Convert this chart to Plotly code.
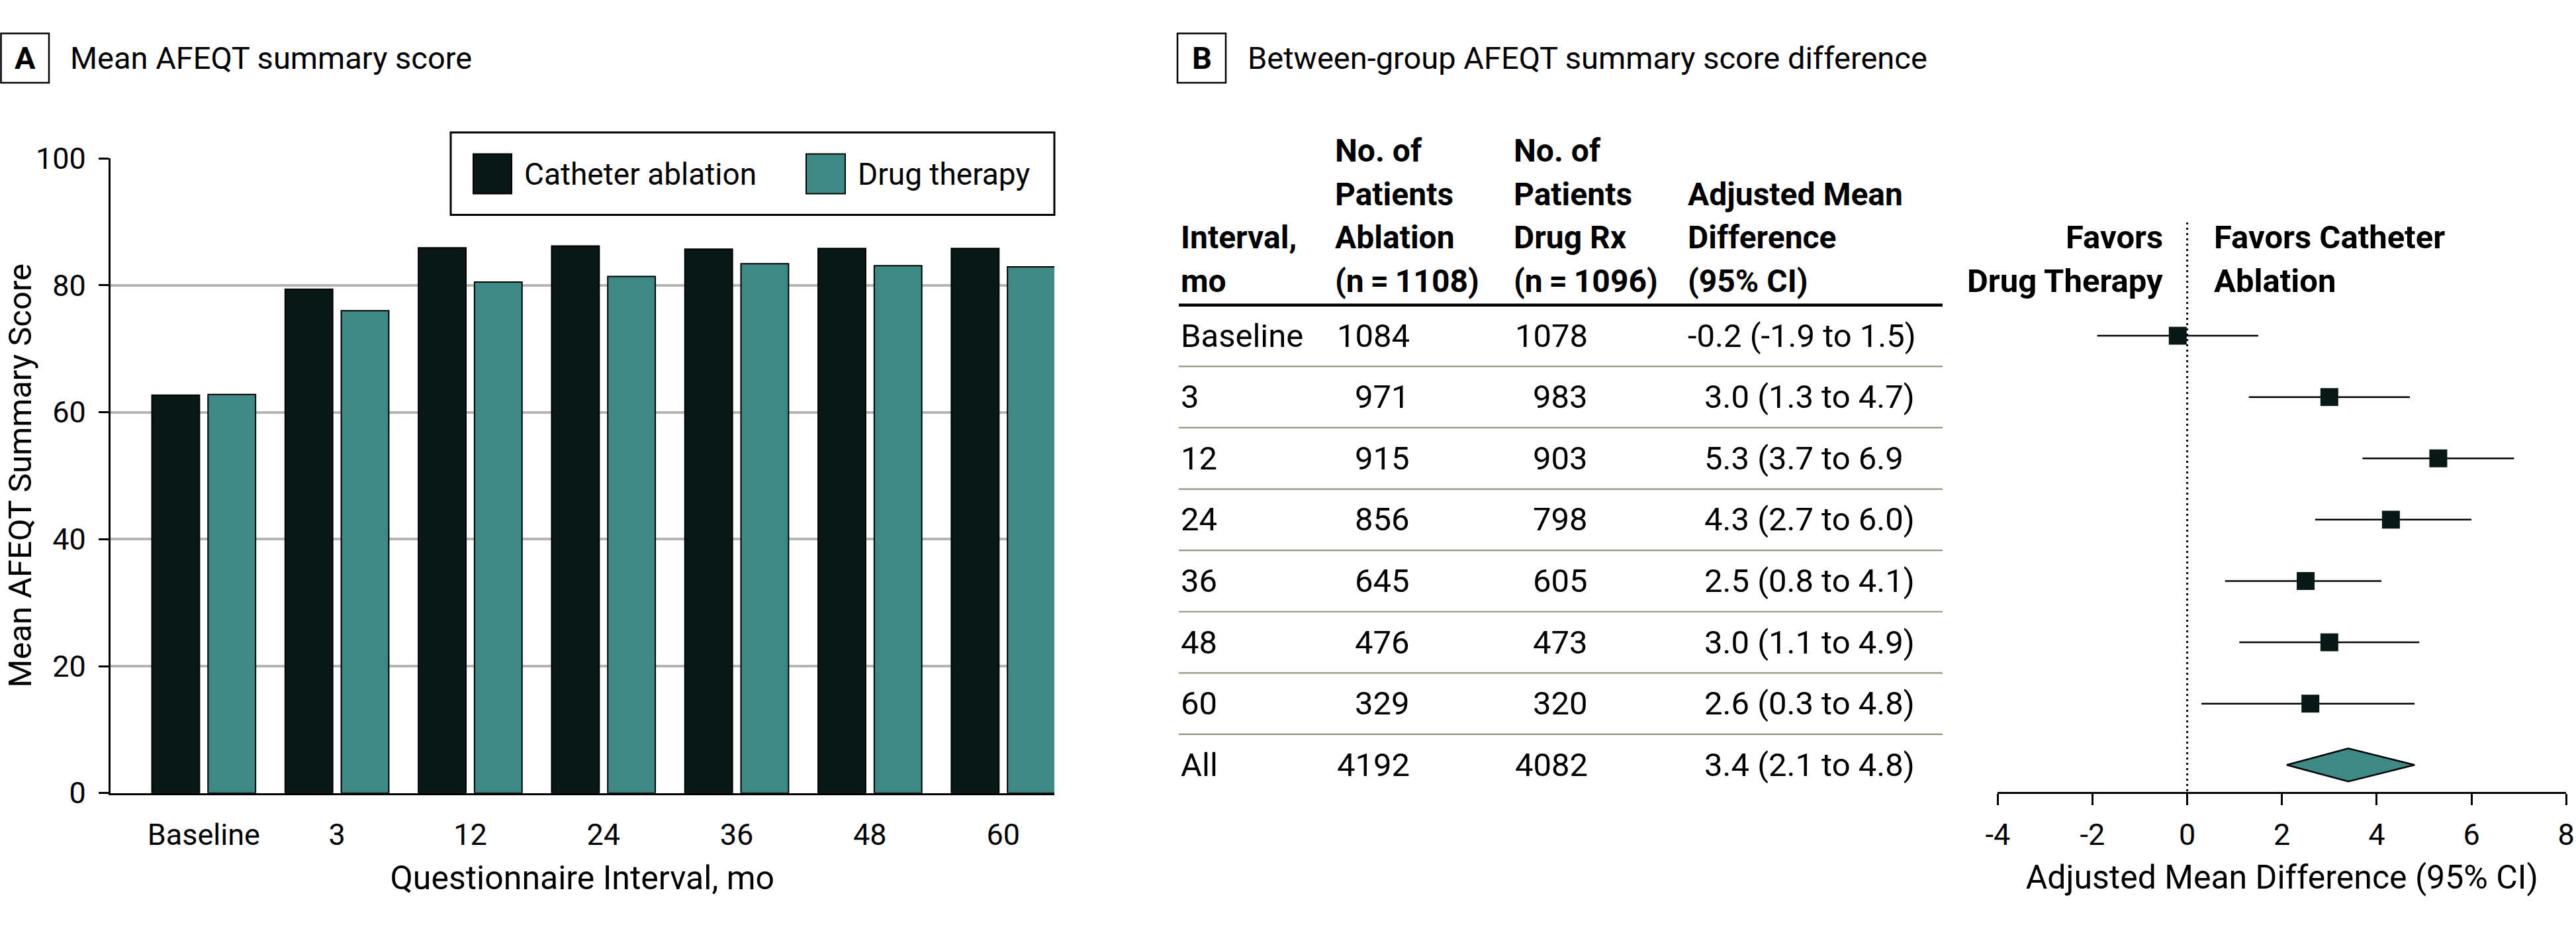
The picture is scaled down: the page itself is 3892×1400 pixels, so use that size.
import plotly.graph_objects as go

# ---------------- data ----------------
intervals = ["Baseline", "3", "12", "24", "36", "48", "60"]
catheter_ablation = [62.7, 79.4, 85.9, 86.2, 85.7, 85.8, 85.8]
drug_therapy = [62.8, 76.0, 80.5, 81.4, 83.4, 83.1, 82.9]

row_labels = ["Baseline", "3", "12", "24", "36", "48", "60", "All"]
n_ablation = [1084, 971, 915, 856, 645, 476, 329, 4192]
n_drug = [1078, 983, 903, 798, 605, 473, 320, 4082]
diff_est = [-0.2, 3.0, 5.3, 4.3, 2.5, 3.0, 2.6, 3.4]
diff_lo = [-1.9, 1.3, 3.7, 2.7, 0.8, 1.1, 0.3, 2.1]
diff_hi = [1.5, 4.7, 6.9, 6.0, 4.1, 4.9, 4.8, 4.8]
ci_labels = ["-0.2 (-1.9 to 1.5)", "3.0 (1.3 to 4.7)", "5.3 (3.7 to 6.9",
             "4.3 (2.7 to 6.0)", "2.5 (0.8 to 4.1)", "3.0 (1.1 to 4.9)",
             "2.6 (0.3 to 4.8)", "3.4 (2.1 to 4.8)"]
forest_ticks = [-4, -2, 0, 2, 4, 6, 8]
bar_ticks = [0, 20, 40, 60, 80, 100]

# ---------------- style ----------------
W, H = 3892, 1400
FONT = "Roboto"
DARK = "#081816"
TEAL = "#3c8985"
RULE = "#8d9679"


def px(x):
    return x / W


def py(y):
    return 1 - y / H


fig = go.Figure()

# Panel A bars
fig.add_trace(go.Bar(x=intervals, y=catheter_ablation, name="Catheter ablation",
                     offset=-0.389, width=0.357,
                     marker=dict(color=DARK, line=dict(color="black", width=2)),
                     xaxis="x", yaxis="y", showlegend=False))
fig.add_trace(go.Bar(x=intervals, y=drug_therapy, name="Drug therapy",
                     offset=0.032, width=0.357,
                     marker=dict(color=TEAL, line=dict(color="black", width=2)),
                     xaxis="x", yaxis="y", showlegend=False))

# Panel B forest plot (individual intervals)
n_int = len(row_labels) - 1
rows = list(range(n_int))
fig.add_trace(go.Scatter(
    x=diff_est[:n_int], y=rows, mode="markers",
    marker=dict(symbol="square", size=27, color=DARK, line=dict(width=0)),
    error_x=dict(type="data", symmetric=False,
                 array=[h - e for h, e in zip(diff_hi[:n_int], diff_est[:n_int])],
                 arrayminus=[e - l for e, l in zip(diff_est[:n_int], diff_lo[:n_int])],
                 width=0, thickness=2.5, color="black"),
    xaxis="x2", yaxis="y2", showlegend=False, cliponaxis=False))

# Overall diamond
r = n_int
half = 0.27
fig.add_trace(go.Scatter(
    x=[diff_lo[r], diff_est[r], diff_hi[r], diff_est[r], diff_lo[r]],
    y=[r, r - half, r, r + half, r],
    mode="lines", fill="toself", fillcolor=TEAL,
    line=dict(color="black", width=2.5),
    xaxis="x2", yaxis="y2", showlegend=False))

shapes = []
ann = []

# panel letter boxes and titles
for (bx0, bx1, letter, tx, title) in [
        (1.5, 74, "A", 103.6, "Mean AFEQT summary score"),
        (1779, 1852, "B", 1883, "Between-group AFEQT summary score difference")]:
    shapes.append(dict(type="rect", xref="paper", yref="paper",
                       x0=px(bx0), x1=px(bx1), y0=py(125), y1=py(50.5),
                       line=dict(color="black", width=2.5)))
    ann.append(dict(text="<b>%s</b>" % letter, x=px((bx0 + bx1) / 2), y=py(88),
                    xref="paper", yref="paper", xanchor="center", yanchor="middle",
                    showarrow=False, font=dict(size=47, color="black", family=FONT)))
    ann.append(dict(text=title, x=px(tx), y=py(88), xref="paper", yref="paper",
                    xanchor="left", yanchor="middle", showarrow=False,
                    font=dict(size=47, color="black", family=FONT)))

# custom legend for panel A
shapes.append(dict(type="rect", xref="paper", yref="paper", layer="above",
                   x0=px(681), x1=px(1593), y0=py(324.5), y1=py(200),
                   fillcolor="white", line=dict(color="black", width=3)))
for (sx0, sx1, col, tx, name) in [(715, 773, DARK, 790, "Catheter ablation"),
                                  (1218, 1277, TEAL, 1294, "Drug therapy")]:
    shapes.append(dict(type="rect", xref="paper", yref="paper", layer="above",
                       x0=px(sx0), x1=px(sx1), y0=py(292.4), y1=py(232.6),
                       fillcolor=col, line=dict(color="black", width=2)))
    ann.append(dict(text=name, x=px(tx), y=py(262.5), xref="paper", yref="paper",
                    xanchor="left", yanchor="middle", showarrow=False,
                    font=dict(size=46, color="black", family=FONT)))

# y-axis title panel A
ann.append(dict(text="Mean AFEQT Summary Score", x=px(30), y=py(718.5),
                xref="paper", yref="paper", textangle=-90, xanchor="center",
                yanchor="middle", showarrow=False,
                font=dict(size=49, color="black", family=FONT)))

# table headers
HEAD = 48
line_y = [424, 358.5, 293, 227.5]  # bottom line first
headers = [
    (1781.5, ["Interval,", "mo"]),
    (2015, ["No. of", "Patients", "Ablation", "(n\u2009=\u20091108)"]),
    (2285, ["No. of", "Patients", "Drug Rx", "(n\u2009=\u20091096)"]),
    (2548, ["Adjusted Mean", "Difference", "(95% CI)"]),
]
for hx, lines in headers:
    for k, t in enumerate(reversed(lines)):
        ann.append(dict(text="<b>%s</b>" % t, x=px(hx), y=py(line_y[k]),
                        xref="paper", yref="paper", xanchor="left", yanchor="middle",
                        showarrow=False, font=dict(size=HEAD, color="black", family=FONT)))

# favors labels
for t, x, anchor, yy in [("Favors", 3270, "right", 358.5),
                         ("Drug Therapy", 3270, "right", 424),
                         ("Favors Catheter", 3343, "left", 358.5),
                         ("Ablation", 3343, "left", 424)]:
    ann.append(dict(text="<b>%s</b>" % t, x=px(x), y=py(yy), xref="paper", yref="paper",
                    xanchor=anchor, yanchor="middle", showarrow=False,
                    font=dict(size=49, color="black", family=FONT)))

# table rows (positioned on the forest y scale)
TF = dict(size=49, color="black", family=FONT)
for i, lab in enumerate(row_labels):
    ann.append(dict(text=lab, x=px(1781.5), y=i, xref="paper", yref="y2",
                    xanchor="left", yanchor="middle", showarrow=False, font=TF))
    ann.append(dict(text=str(n_ablation[i]), x=px(2132), y=i, xref="paper", yref="y2",
                    xanchor="right", yanchor="middle", showarrow=False, font=TF))
    ann.append(dict(text=str(n_drug[i]), x=px(2401), y=i, xref="paper", yref="y2",
                    xanchor="right", yanchor="middle", showarrow=False, font=TF))
    cx = 2548 if diff_est[i] < 0 else 2573
    ann.append(dict(text=ci_labels[i], x=px(cx), y=i, xref="paper", yref="y2",
                    xanchor="left", yanchor="middle", showarrow=False, font=TF))

# table rules
shapes.append(dict(type="line", xref="paper", yref="y2", x0=px(1781), x1=px(2935),
                   y0=-0.5, y1=-0.5, line=dict(color="black", width=4.5)))
for i in range(len(row_labels) - 1):
    shapes.append(dict(type="line", xref="paper", yref="y2", x0=px(1781), x1=px(2935),
                       y0=i + 0.5, y1=i + 0.5, line=dict(color=RULE, width=2.2)))

# dotted null line
shapes.append(dict(type="line", xref="x2", yref="y2", x0=0, x1=0, y0=-1.847, y1=7.44,
                   layer="below", line=dict(color="black", width=3, dash="3px,5px")))

fig.update_layout(
    width=W, height=H,
    margin=dict(l=0, r=0, t=0, b=0, pad=0, autoexpand=False),
    paper_bgcolor="white", plot_bgcolor="white",
    barmode="overlay",
    font=dict(family=FONT, color="black", size=45),
    xaxis=dict(domain=[px(166.5), px(1593)], anchor="y", type="category",
               automargin=False,
               range=[-0.702, 6.384], showline=True, linecolor="black", linewidth=2.5,
               ticks="", showgrid=False, zeroline=False,
               tickfont=dict(size=45, color="black", family=FONT),
               ticklabelstandoff=22,
               title=dict(text="Questionnaire Interval, mo", standoff=22,
                          font=dict(size=50, color="black", family=FONT))),
    yaxis=dict(domain=[py(1197.7), py(239.2)], anchor="x", range=[0, 100],
               automargin=False,
               tickvals=bar_ticks, ticks="outside", ticklen=15, tickwidth=2.5,
               tickcolor="black", showline=True, linecolor="black", linewidth=2.5,
               showgrid=True, gridcolor="#b5b5b5", gridwidth=3.5, zeroline=False,
               tickfont=dict(size=45, color="black", family=FONT),
               ticklabelstandoff=10),
    xaxis2=dict(domain=[px(3018.3), px(3877.2)], anchor="y2", range=[-4, 8],
                automargin=False,
                tickvals=forest_ticks, ticktext=[str(t) for t in forest_ticks],
                ticks="outside", ticklen=17, tickwidth=2.5, tickcolor="black",
                showline=True, linecolor="black", linewidth=2.5, showgrid=False,
                zeroline=False, tickfont=dict(size=45, color="black", family=FONT),
                ticklabelstandoff=6,
                title=dict(text="Adjusted Mean Difference (95% CI)", standoff=22,
                           font=dict(size=50, color="black", family=FONT))),
    yaxis2=dict(domain=[py(1196), py(336)], anchor="x2", range=[7.44, -1.847],
                automargin=False,
                showticklabels=False, showgrid=False, zeroline=False,
                showline=False, ticks=""),
    shapes=shapes,
    annotations=ann,
)

fig.write_html("out.html",
               config={"displayModeBar": False},
               post_script="document.body.style.margin='0px';"
                           "document.body.style.overflow='hidden';")
